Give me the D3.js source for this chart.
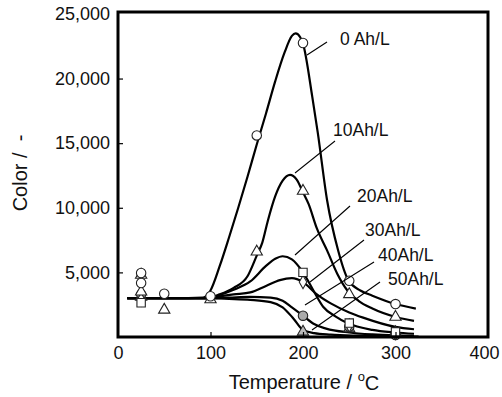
<!DOCTYPE html>
<html><head><meta charset="utf-8">
<script src="https://cdn.jsdelivr.net/npm/d3@7/dist/d3.min.js"></script>
<style>
html,body{margin:0;padding:0;background:#fff;}
svg text{font-family:"Liberation Sans",Arial,sans-serif;fill:#111;}
</style></head>
<body><svg id="c" width="502" height="397"></svg>
<script>
// ---- data ----
const xTicks = [0, 100, 200, 300, 400];
const yTicks = [5000, 10000, 15000, 20000, 25000];
const seriesNames = ["0 Ah/L", "10Ah/L", "20Ah/L", "30Ah/L", "40Ah/L", "50Ah/L"];

// fitted curves [temperature, color]
const curve0  = [[10,3000],[60,3000],[92,3050],[100,3600],[110,5500],[120,7700],[130,10000],[140,12400],[150,14900],[160,17300],[170,19800],[180,22000],[188,23300],[192,23500],[197,23200],[200,22700],[210,18600],[216,15800],[226,10600],[238,6700],[249,4400],[262,3600],[275,3200],[300,2550],[322,2200]];
const curve10 = [[10,3000],[60,3000],[95,3000],[110,3300],[125,3800],[140,4700],[150,6300],[156,7300],[162,9000],[170,10900],[178,12100],[186,12550],[193,12200],[200,11200],[206,10300],[215,8400],[226,6700],[237,4900],[248,3600],[260,2800],[275,2200],[300,1550],[320,1250]];
const curve20 = [[10,3000],[60,3000],[95,3000],[110,3250],[125,3650],[143,4300],[160,5500],[170,6050],[178,6250],[188,6000],[200,5000],[212,3500],[222,2320],[235,1600],[248,1080],[275,550],[300,350],[320,250]];
const curve30 = [[10,3000],[60,3000],[95,3000],[110,3150],[125,3300],[143,3450],[160,3950],[175,4400],[188,4550],[200,4250],[215,3300],[230,2600],[250,1900],[265,1500],[300,780],[320,600]];
const curve40 = [[10,3000],[60,3000],[95,3000],[120,3050],[143,3100],[165,3050],[178,2800],[188,2300],[200,1650],[212,1000],[225,650],[250,350],[275,200],[300,120],[320,90]];
const curve50 = [[10,3000],[60,3000],[95,3000],[120,2950],[143,2880],[165,2700],[178,2300],[190,1400],[200,550],[212,300],[230,180],[260,100],[300,60],[325,40]];

// measured points [temperature, color]
const pts0  = [[25,4950],[25,4180],[50,3350],[100,3150],[150,15600],[200,22750],[250,4350],[300,2550]];
const pts10 = [[25,4800],[25,3500],[50,2100],[100,2900],[150,6600],[200,11300],[250,3300],[300,1550]];
const pts20 = [[25,2650],[200,5000],[250,1080],[300,400]];
const pts30 = [[25,2900],[200,4250],[250,900],[300,300]];
const pts40 = [[25,3300],[200,1650],[250,800],[300,150]];
const pts50 = [[25,3100],[200,400],[250,650],[300,350]];

// ---- drawing ----
const svg = d3.select("#c");
const x = d3.scaleLinear().domain([0,400]).range([118,488]);
const y = d3.scaleLinear().domain([0,25150]).range([337,12]);

// curves
const line = d3.line().x(d=>x(d[0])).y(d=>y(d[1])).curve(d3.curveMonotoneX);
[curve0,curve10,curve20,curve30,curve40,curve50].forEach(c=>{
  svg.append("path").attr("d",line(c)).attr("fill","none").attr("stroke","#000").attr("stroke-width",2.2);
});

// markers
function drawPts(data, type, fill){
  svg.append("g").selectAll("path").data(data).join("path")
    .attr("transform",d=>`translate(${x(d[0])},${y(d[1])})`)
    .attr("d", d3.symbol().type(type).size(type===d3.symbolTriangle?55:(type===d3.symbolDiamond?50:70))())
    .attr("fill",fill).attr("stroke","#222").attr("stroke-width",1.1);
}
drawPts(pts50, d3.symbolTriangle, "#bbb");
drawPts(pts40, d3.symbolCircle, "#aaa");
drawPts(pts30, d3.symbolDiamond, "#fff");
drawPts(pts20, d3.symbolSquare, "#fff");
drawPts(pts10, d3.symbolTriangle, "#fff");
drawPts(pts0, d3.symbolCircle, "#fff");

// axes
const yAxis = d3.axisLeft(y).tickValues(yTicks).tickSize(-5).tickPadding(8).tickFormat(d3.format(","));
const gy = svg.append("g").attr("transform","translate(118,0)").call(yAxis);
const xAxis = d3.axisBottom(x).tickValues(xTicks).tickSize(-5).tickPadding(9).tickFormat(d3.format("d"));
const gx = svg.append("g").attr("transform","translate(0,337)").call(xAxis);
[gx,gy].forEach(g=>{
  g.select(".domain").remove();
  g.selectAll("text").attr("font-size",18).attr("fill","#111").attr("font-family","Liberation Sans, Arial, sans-serif");
  g.selectAll("line").attr("stroke","#000").attr("stroke-width",1.2);
});
gx.selectAll(".tick").filter(d=>d===0||d===400).select("line").remove();
gx.selectAll(".tick").filter(d=>d===400).select("text").attr("dx",-4);
gy.selectAll(".tick").filter(d=>d===25000).select("line").remove();

// frame
svg.append("rect").attr("x",x(0)).attr("y",12).attr("width",x(400)-x(0)).attr("height",337-12)
  .attr("fill","none").attr("stroke","#000").attr("stroke-width",3);

// labels with leader lines
const labelPos = [[340,39,327,42,307,55],[333,130,335,141,295,173],[357,196,350,206,295,255],[365,230,364,240,310,282],[378,255,374,262,305,305],[388,279,380,282,312,330]];
seriesNames.forEach((n,i)=>{
  const p = labelPos[i];
  svg.append("line").attr("x1",p[2]).attr("y1",p[3]).attr("x2",p[4]).attr("y2",p[5]).attr("stroke","#000").attr("stroke-width",1.1);
  svg.append("text").attr("x",p[0]).attr("y",p[1]).attr("dy","0.35em").attr("font-size",17.5).text(n);
});

// axis titles
const xt = svg.append("text").attr("x",304).attr("y",382).attr("dy","0.35em").attr("text-anchor","middle").attr("font-size",20);
xt.append("tspan").text("Temperature / ");
xt.append("tspan").attr("font-size",13).attr("dy","-0.6em").text("o");
xt.append("tspan").attr("dy","0.45em").text("C");
svg.append("text").attr("transform","translate(20,173) rotate(-90)").attr("dy","0.35em").attr("text-anchor","middle")
  .attr("font-size",20).style("white-space","pre").text("Color /  -");
</script></body></html>
